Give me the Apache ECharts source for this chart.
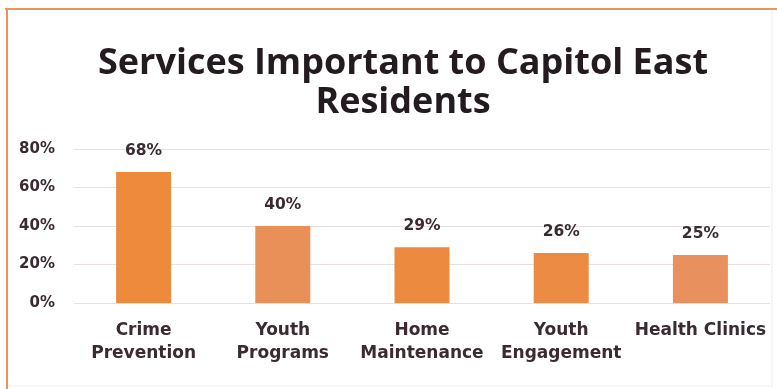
<!DOCTYPE html>
<html>
<head>
<meta charset="utf-8">
<script src="https://cdn.jsdelivr.net/npm/echarts@6/dist/echarts.min.js"></script>
<style>
  html, body { margin: 0; padding: 0; background: #ffffff; }
  #chart { width: 777px; height: 389px; }
</style>
</head>
<body>
<div id="chart"></div>
<script>
// Survey results: share of residents naming each service as important
const categories = ['Crime\nPrevention', 'Youth\nPrograms', 'Home\nMaintenance', 'Youth\nEngagement', 'Health Clinics'];
const values = [68, 40, 29, 26, 25];
const barColors = ['#EE8A3C', '#E98F58', '#EC8A40', '#EC8C44', '#E8915E'];
const yTicks = [0, 20, 40, 60, 80];

const textDark = '#3A2B33';
const chart = echarts.init(document.getElementById('chart'), null, { renderer: 'canvas' });

chart.setOption({
  backgroundColor: '#ffffff',
  animation: false,
  title: {
    text: 'Services Important to Capitol East\nResidents',
    left: 398,
    textAlign: 'center',
    top: 39,
    textStyle: {
      fontFamily: 'Open Sans',
      fontWeight: 'bold',
      fontSize: 36,
      lineHeight: 39,
      color: '#231B20'
    }
  },
  grid: { left: 74, right: 7, top: 149, bottom: 86 },
  xAxis: {
    type: 'category',
    data: categories,
    axisLine: { show: false },
    axisTick: { show: false },
    axisLabel: {
      margin: 16,
      fontFamily: 'DejaVu Sans',
      fontWeight: 'bold',
      fontSize: 17,
      lineHeight: 23,
      color: textDark,
      interval: 0
    }
  },
  yAxis: {
    type: 'value',
    min: 0,
    max: 80,
    interval: 20,
    axisLine: { show: false },
    axisTick: { show: false },
    axisLabel: {
      margin: 19,
      fontFamily: 'DejaVu Sans',
      fontWeight: 'bold',
      fontSize: 15,
      color: textDark,
      formatter: v => (yTicks.includes(v) ? v + '%' : '')
    },
    splitLine: { lineStyle: { color: '#E8DFE0', width: 1 } }
  },
  series: [{
    type: 'bar',
    data: values.map((v, i) => ({ value: v, itemStyle: { color: barColors[i] } })),
    barWidth: 55,
    label: {
      show: true,
      position: 'top',
      distance: 13,
      formatter: p => p.value + '%',
      fontFamily: 'DejaVu Sans',
      fontWeight: 'bold',
      fontSize: 15.5,
      color: textDark
    }
  }],
  graphic: [
    // frame around the chart area
    { type: 'line', shape: { x1: 5, y1: 9, x2: 777, y2: 9 }, style: { stroke: '#E8955C', lineWidth: 2 } },
    { type: 'line', shape: { x1: 7, y1: 8, x2: 7, y2: 389 }, style: { stroke: '#E8955C', lineWidth: 2 } },
    { type: 'line', shape: { x1: 772, y1: 10, x2: 772, y2: 387 }, style: { stroke: '#ECEFF2', lineWidth: 1 } },
    { type: 'line', shape: { x1: 8, y1: 386, x2: 772, y2: 386 }, style: { stroke: '#ECEFF2', lineWidth: 1 } }
  ]
});
</script>
</body>
</html>
